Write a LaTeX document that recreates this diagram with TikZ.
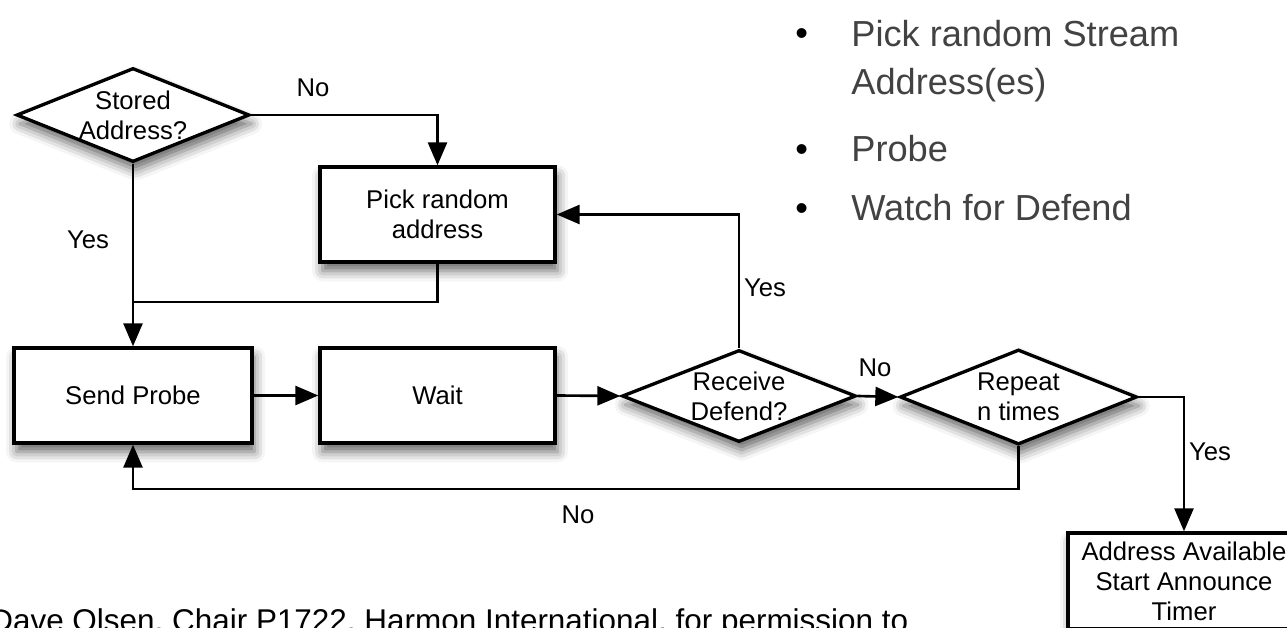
\documentclass[tikz,border=0pt]{standalone}
\usepackage{fontspec}
\setmainfont{Liberation Sans}
\usetikzlibrary{shapes.geometric,arrows.meta,shadows.blur}
\definecolor{bulletgray}{HTML}{424242}

\begin{document}
\begin{tikzpicture}[
  box/.style={draw, line width=1.9pt, fill=white, minimum width=4.7cm, minimum height=1.9cm,
    align=center, font=\fontsize{14.6}{17}\selectfont,
    blur shadow={shadow xshift=1.5pt, shadow yshift=-5pt, shadow blur radius=6pt, shadow opacity=60}},
  decision/.style={box, shape=diamond, aspect=2.47, inner sep=0pt, minimum width=4.66cm, minimum height=1.88cm},
  lbl/.style={font=\fontsize{14.6}{17}\selectfont},
  wire/.style={line width=1.5pt},
  flow/.style={wire, -{Triangle[length=0.46cm, width=0.38cm]}},
  bullettext/.style={anchor=base west, inner sep=0pt, text=bulletgray, align=left, font=\fontsize{20.6}{27.8}\selectfont}
]
\useasboundingbox (0,0) rectangle (25.74,-12.56);
\clip (0,0) rectangle (25.74,-12.56);

\node[decision] (stored) at (2.66,-2.30) {Stored\\Address?};
\node[box] (pick) at (8.75,-4.29) {Pick random\\address};
\node[box, minimum width=4.76cm] (send) at (2.66,-7.91) {Send Probe};
\node[box] (wait) at (8.75,-7.91) {Wait};
\node[decision, minimum width=4.68cm, minimum height=1.84cm] (receive) at (14.78,-7.92) {Receive\\Defend?};
\node[decision, minimum width=4.74cm, minimum height=1.90cm] (repeat) at (20.37,-7.94) {Repeat\\n times};
\node[box, minimum width=4.64cm, minimum height=1.92cm, inner sep=0pt] (avail) at (23.68,-11.62) {Address Available\\Start Announce\\Timer};

\coordinate (join) at (2.66,-6.04);
\coordinate (loop) at (20.37,-9.78);

\draw[flow] (stored.east) -| (pick.north);
\draw[flow] (stored.south) -- (send.north);
\draw[wire] (pick.south) |- (join);
\draw[flow] (send.east) -- (wait.west);
\draw[flow] (wait.east) -- (receive.west);
\draw[flow] (receive.east) -- (repeat.west);
\draw[flow] (receive.north) |- (pick.east);
\draw[flow] (repeat.south) -- (loop) -| (send.south);
\draw[flow] (repeat.east) -| (avail.north);

\node[lbl] (noStored) at (6.26,-1.76) {No};
\node[lbl] (yesStored) at (1.76,-4.80) {Yes};
\node[lbl, anchor=west, inner sep=1pt] (yesReceive) at (14.84,-5.76) {Yes};
\node[lbl] (noReceive) at (17.50,-7.36) {No};
\node[lbl] (noRepeat) at (11.56,-10.30) {No};
\node[lbl, anchor=west, inner sep=1pt] (yesRepeat) at (23.74,-9.04) {Yes};

\node[bullettext] (pt1) at (17.02,-1.90) {Pick random Stream\\Address(es)};
\node[bullettext] (pt2) at (17.02,-3.22) {Probe};
\node[bullettext] (pt3) at (17.02,-4.40) {Watch for Defend};
\foreach \y in {-0.92,-3.22,-4.40}
  \node[bullettext, text=black] at (15.90,\y) {•};

\node[anchor=base west, inner sep=0pt, font=\fontsize{17.9}{21}\selectfont] (credit) at (-0.20,-12.63)
  {Dave Olsen, Chair P1722, Harmon International, for permission to};
\end{tikzpicture}
\end{document}
